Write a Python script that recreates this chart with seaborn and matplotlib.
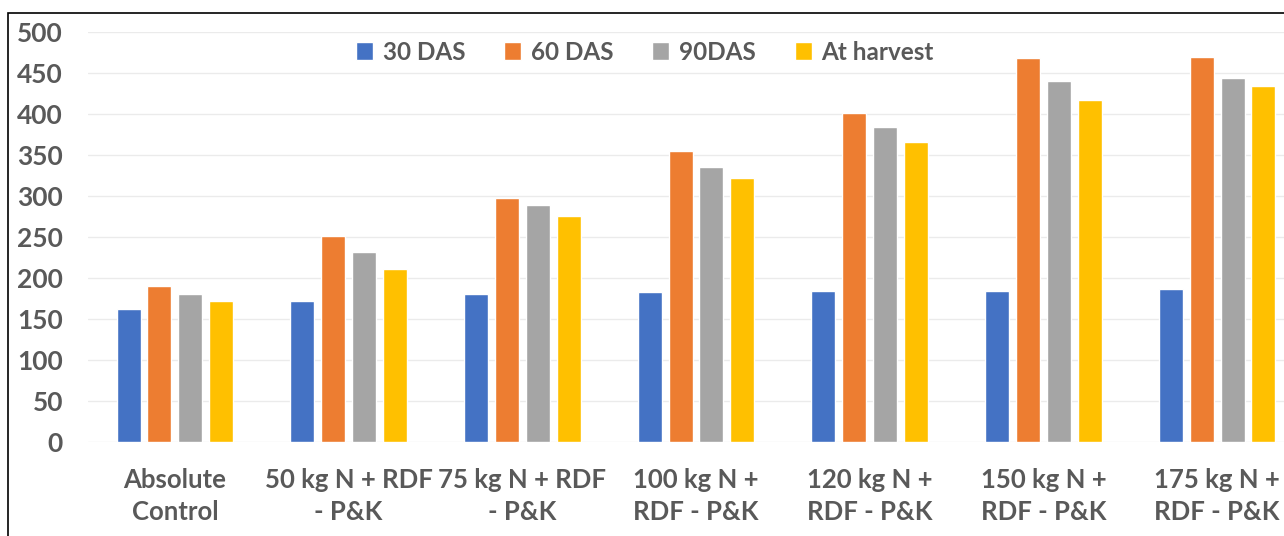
import matplotlib
matplotlib.use("Agg")
import matplotlib.pyplot as plt
import seaborn as sns
import pandas as pd
from matplotlib.patches import Rectangle

categories = ["Absolute\nControl", "50 kg N + RDF\n- P&K", "75 kg N + RDF\n- P&K",
              "100 kg N +\nRDF - P&K", "120 kg N +\nRDF - P&K", "150 kg N +\nRDF - P&K",
              "175 kg N +\nRDF - P&K"]
series = ["30 DAS", "60 DAS", "90DAS", "At harvest"]
das30 = [162, 172, 180, 183, 184, 184, 186]
das60 = [190, 251, 298, 355, 401, 468, 470]
das90 = [181, 232, 289, 335, 384, 440, 444]
harvest = [172, 211, 275, 322, 366, 417, 434]
colors = ["#4472C4", "#ED7D31", "#A5A5A5", "#FFC000"]

rows = []
for s, vals in zip(series, [das30, das60, das90, harvest]):
    for c, v in zip(categories, vals):
        rows.append({"cat": c, "series": s, "value": v})
df = pd.DataFrame(rows)

sns.set_theme(style="white")
plt.rcParams["font.family"] = ["Lato", "DejaVu Sans"]

W, H = 1284, 536
fig = plt.figure(figsize=(W / 100, H / 100), dpi=100)
left, right, top, bottom = 88, 1304, 32, 442
ax = fig.add_axes([left / W, (H - bottom) / H, (right - left) / W, (bottom - top) / H])

sns.barplot(data=df, x="cat", y="value", hue="series", palette=colors,
            width=0.71, gap=0.22, ax=ax, saturation=1, errorbar=None)

ax.set_ylim(0, 500)
ax.set_xlim(-0.5, 6.5)
ax.set_yticks(range(0, 501, 50))
ax.yaxis.grid(True, color="#EBEBEB", linewidth=1)
ax.set_axisbelow(True)
for sp in ax.spines.values():
    sp.set_visible(False)
ax.set_xlabel("")
ax.set_ylabel("")
ax.tick_params(axis="y", length=0, pad=18, labelsize=19, labelcolor="#595959")
ax.tick_params(axis="x", length=0, pad=18.5, labelsize=18.5, labelcolor="#595959")
for t in ax.get_xticklabels() + ax.get_yticklabels():
    t.set_fontweight("bold")
for t in ax.get_xticklabels():
    t.set_linespacing(1.42)

leg = ax.legend(loc="center", bbox_to_anchor=((645 - left) / (right - left), (bottom - 52) / (bottom - top)),
                ncol=4, frameon=False, handlelength=0.7, handleheight=0.7,
                handletextpad=0.4, columnspacing=1.6,
                prop={"size": 17.5, "weight": "bold"})
for t in leg.get_texts():
    t.set_color("#595959")

fig.patches.append(Rectangle((8 / W, -0.1), 1.2, (H - 13) / H + 0.1,
                             transform=fig.transFigure, fill=False,
                             edgecolor="black", linewidth=1.2, figure=fig))

fig.savefig("out.png", dpi=100)
